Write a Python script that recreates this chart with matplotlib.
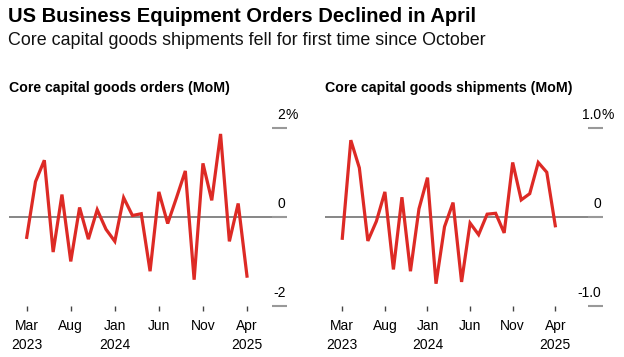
import matplotlib
matplotlib.use('Agg')
import matplotlib.pyplot as plt

plt.rcParams['font.family'] = ['Liberation Sans', 'DejaVu Sans']

# monthly MoM % change, Mar 2023 .. Apr 2025
months = ['2023-03', '2023-04', '2023-05', '2023-06', '2023-07', '2023-08',
          '2023-09', '2023-10', '2023-11', '2023-12', '2024-01', '2024-02',
          '2024-03', '2024-04', '2024-05', '2024-06', '2024-07', '2024-08',
          '2024-09', '2024-10', '2024-11', '2024-12', '2025-01', '2025-02',
          '2025-03', '2025-04']
orders = [-0.46, 0.79, 1.27, -0.79, 0.50, -1.00, 0.21, -0.50, 0.16, -0.28,
          -0.55, 0.43, 0.03, 0.07, -1.22, 0.56, -0.15, 0.43, 1.03, -1.41,
          1.20, 0.37, 1.86, -0.55, 0.30, -1.33]
shipments = [-0.24, 0.86, 0.55, -0.27, -0.05, 0.28, -0.59, 0.22, -0.61, 0.09,
             0.44, -0.75, -0.11, 0.16, -0.73, -0.07, -0.20, 0.03, 0.04, -0.18,
             0.61, 0.19, 0.26, 0.61, 0.50, -0.10]

tick_pos = [0, 5, 10, 15, 20, 25]
tick_labels = ['Mar\n2023', 'Aug', 'Jan\n2024', 'Jun', 'Nov', 'Apr\n2025']

RED = '#dd2a25'
W, H = 624, 357

fig = plt.figure(figsize=(W / 100, H / 100), dpi=100)

fig.text(8 / W, 1 - 22 / H, 'US Business Equipment Orders Declined in April',
         fontsize=14.5, fontweight='bold', va='baseline', ha='left')
fig.text(8 / W, 1 - 45 / H, 'Core capital goods shipments fell for first time since October',
         fontsize=12.9, va='baseline', ha='left', color='#111111')

panels = [
    dict(left=9, y=orders, title='Core capital goods orders (MoM)',
         lim=2, ticks=[(2, '2'), (0, '0'), (-2, '-2')], xl=(-2.01, 29.54)),
    dict(left=325, y=shipments, title='Core capital goods shipments (MoM)',
         lim=1, ticks=[(1, '1.0'), (0, '0'), (-1, '-1.0')], xl=(-2.03, 30.6)),
]

for p in panels:
    ax = fig.add_axes([p['left'] / W, 1 - 306 / H, 278 / W, (306 - 127.7) / H])
    ax.set_xlim(*p['xl'])
    ax.set_ylim(-p['lim'], p['lim'])
    for s in ax.spines.values():
        s.set_visible(False)
    ax.axhline(0, color='#666666', lw=1.1, zorder=1)
    ax.plot(range(len(p['y'])), p['y'], color=RED, lw=2.3, zorder=3,
            solid_joinstyle='miter', clip_on=False)

    # y ticks on the right, drawn inward, labels above
    ax.yaxis.tick_right()
    ax.set_yticks([t[0] for t in p['ticks']])
    ax.set_yticklabels([])
    ax.tick_params(axis='y', direction='in', length=11, width=1.5,
                   color='#999999', pad=0)
    for i, (v, lab) in enumerate(p['ticks']):
        ax.annotate(lab, xy=(1, v), xycoords=('axes fraction', 'data'),
                    xytext=(-1, 9.5), textcoords='offset points',
                    ha='right', va='center', fontsize=10)
        if i == 0:
            ax.annotate('%', xy=(1, v), xycoords=('axes fraction', 'data'),
                        xytext=(-1, 9.5), textcoords='offset points',
                        ha='left', va='center', fontsize=10)

    ax.set_xticks(tick_pos)
    ax.set_xticklabels(tick_labels, fontsize=10, linespacing=1.45)
    ax.tick_params(axis='x', direction='out', length=3.5, width=1,
                   color='#444444', pad=6)

    fig.text(p['left'] / W, 1 - 92 / H, p['title'], fontsize=10.15,
             fontweight='bold', va='baseline', ha='left')

fig.savefig('out.png', dpi=100, facecolor='white')
